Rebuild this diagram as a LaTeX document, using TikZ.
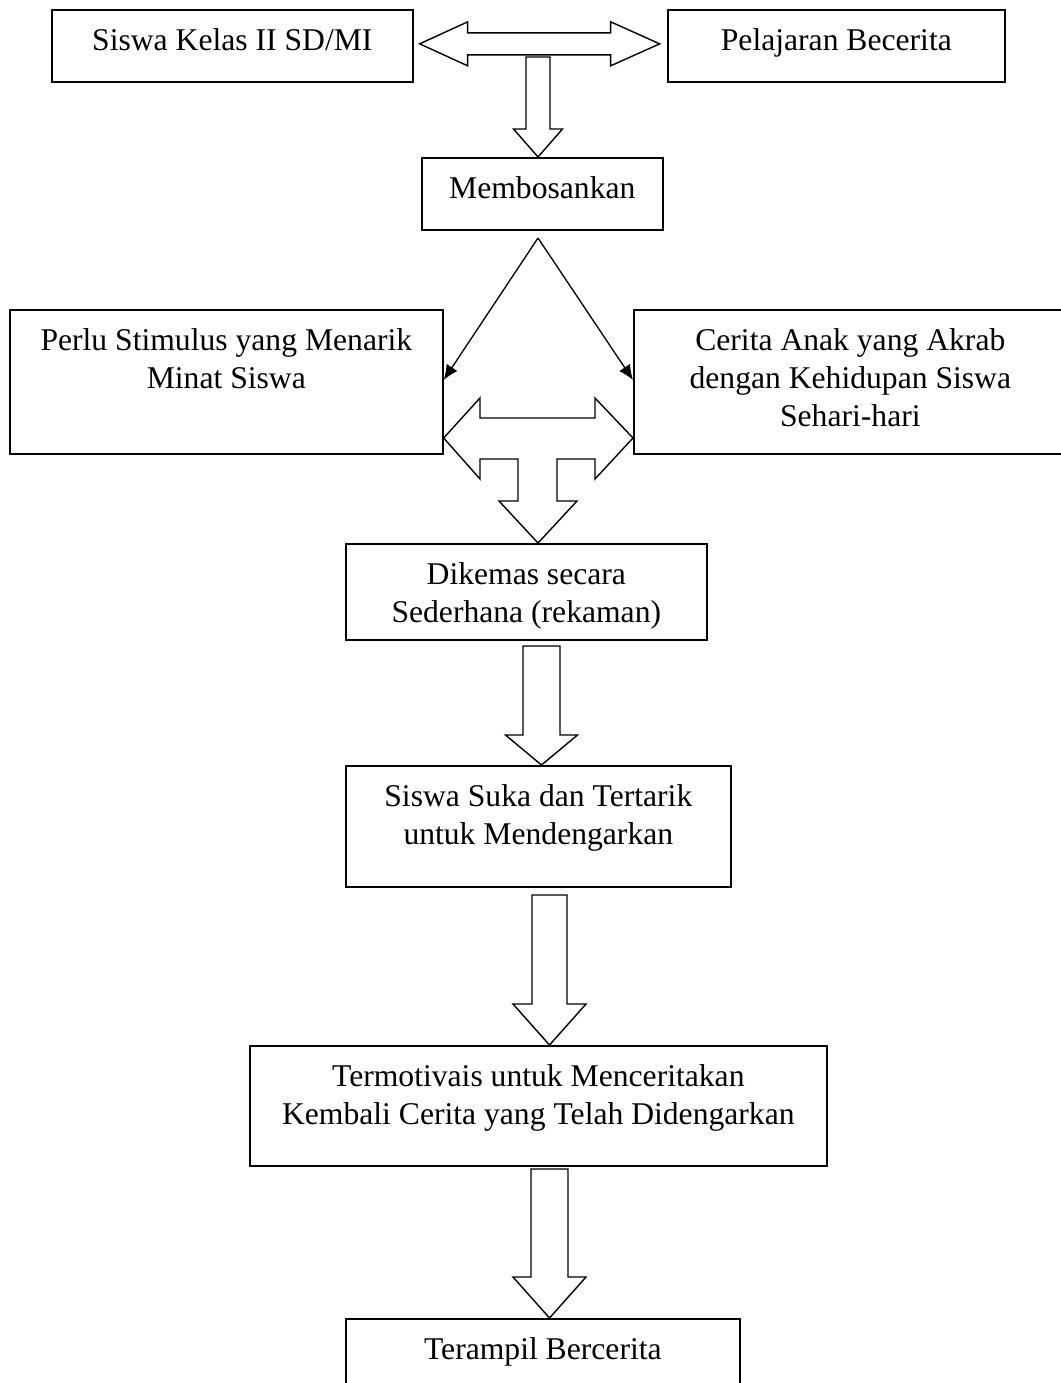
\documentclass[tikz,border=0pt]{standalone}
\usepackage{fontspec}
\setmainfont{Liberation Serif}
\usetikzlibrary{arrows.meta}

% panah blok ke bawah: x, y atas, y kepala, node tujuan, setengah batang, setengah kepala
\newcommand{\panahturun}[6]{%
  \draw[blok] (#1-#5,#2) -- (#1-#5,#3) -- (#1-#6,#3) -- (#1,0 |- #4)
    -- (#1+#6,#3) -- (#1+#5,#3) -- (#1+#5,#2) -- cycle;}

\begin{document}
\begin{tikzpicture}[x=0.2mm, y=-0.2mm,
    kotak/.style = {draw, line width=0.95pt, inner sep=0pt, anchor=north west},
    teks/.style = {inner sep=0pt, align=center, font=\fontsize{18}{21.6}\selectfont},
    blok/.style = {draw, line width=0.8pt, line join=miter},
    panah/.style = {-{Latex[length=3mm, width=2.6mm]}, line width=0.75pt}]
    \useasboundingbox (0,0) rectangle (1060,1383);

    \node[kotak, minimum width=7.22cm, minimum height=1.44cm, label={[teks, anchor=north, yshift=-3.9mm]north:Siswa Kelas II SD/MI}] (kelas) at (51,9) {};
    \node[kotak, minimum width=6.74cm, minimum height=1.44cm, label={[teks, anchor=north, yshift=-3.9mm]north:Pelajaran Becerita}] (pelajaran) at (667,9) {};
    \node[kotak, minimum width=4.82cm, minimum height=1.44cm, label={[teks, anchor=north, yshift=-3.9mm]north:Membosankan}] (bosan) at (421,157) {};
    \node[kotak, minimum width=8.66cm, minimum height=2.88cm, label={[teks, anchor=north, yshift=-3.9mm]north:Perlu Stimulus yang Menarik\\Minat Siswa}] (stimulus) at (9,309) {};
    \node[kotak, minimum width=8.66cm, minimum height=2.88cm, label={[teks, anchor=north, yshift=-3.9mm]north:Cerita Anak yang Akrab\\dengan Kehidupan Siswa\\Sehari-hari}] (cerita) at (633,309) {};
    \node[kotak, minimum width=7.22cm, minimum height=1.92cm, label={[teks, anchor=north, yshift=-3.9mm]north:Dikemas secara\\Sederhana (rekaman)}] (kemas) at (345,543) {};
    \node[kotak, minimum width=7.7cm, minimum height=2.42cm, label={[teks, anchor=north, yshift=-3.9mm]north:Siswa Suka dan Tertarik\\untuk Mendengarkan}] (suka) at (345,765) {};
    \node[kotak, minimum width=11.54cm, minimum height=2.4cm, label={[teks, anchor=north, yshift=-3.9mm]north:Termotivais untuk Menceritakan\\Kembali Cerita yang Telah Didengarkan}] (motivasi) at (249,1045) {};
    \node[kotak, minimum width=7.88cm, minimum height=2.4cm, label={[teks, anchor=north, yshift=-3.9mm]north:Terampil Bercerita}] (terampil) at (345,1318) {};

    % panah dua arah di atas
    \draw[blok] (kelas.east) ++(6,-2) -- ++(48,-22) -- ++(0,11) -- ++(143,0) -- ++(0,-11) -- ++(49,22)
        -- ++(-49,22) -- ++(0,-11) -- ++(-143,0) -- ++(0,11) -- cycle;
    \panahturun{538}{57}{129}{bosan.north}{12}{24.5}

    % dua garis dari Membosankan
    \coordinate (puncak) at (538,238);
    \draw[panah] (puncak) -- (stimulus.east |- 0,380);
    \draw[panah] (puncak) -- (cerita.west |- 0,380);

    % panah tiga arah
    \draw[blok] (stimulus.east |- 0,438) -- (480,398) -- (480,418) -- (595,418) -- (595,398)
        -- (cerita.west |- 0,438) -- (595,479) -- (595,459) -- (557,459) -- (557,501) -- (577,501)
        -- (538,0 |- kemas.north) -- (499,501) -- (518,501) -- (518,459) -- (480,459) -- (480,479) -- cycle;

    \panahturun{541.5}{646}{735}{suka.north}{18.5}{36}
    \panahturun{549.5}{895}{1004}{motivasi.north}{17.5}{36.5}
    \panahturun{549.5}{1169}{1277}{terampil.north}{18.5}{36.5}

\end{tikzpicture}
\end{document}
